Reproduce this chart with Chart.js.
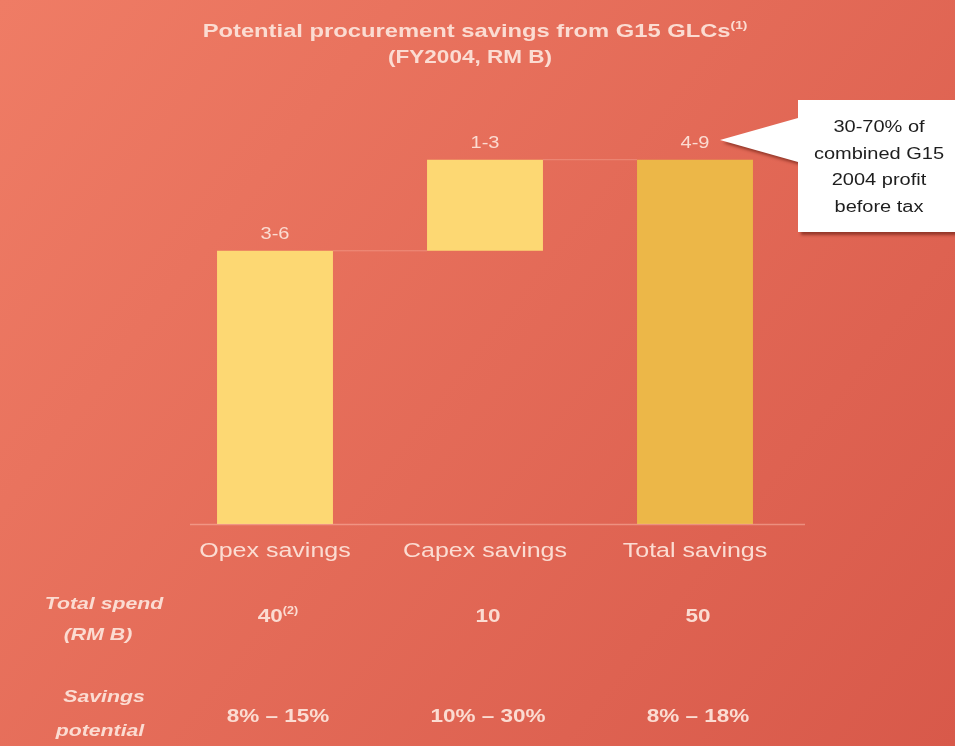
<!DOCTYPE html>
<html>
<head>
<meta charset="utf-8">
<script src="https://cdn.jsdelivr.net/npm/chart.js@4.4.1/dist/chart.umd.min.js"></script>
<style>
  html, body { margin: 0; padding: 0; background: #e46a57; }
  #wrap { width: 955px; height: 746px; position: relative; }
</style>
</head>
<body>
<div id="wrap"><canvas id="chart" width="955" height="746"></canvas></div>
<script>
// Chart data (RM B, FY2004)
const categories = ["Opex savings", "Capex savings", "Total savings"];
const barStart = [0, 4.5, 0];
const barEnd = [4.5, 6, 6];
const rangeLabels = ["3-6", "1-3", "4-9"];
const spendValues = ["40", "10", "50"];
const spendNotes = ["(2)", "", ""];
const savingsPotential = ["8% \u2013 15%", "10% \u2013 30%", "8% \u2013 18%"];
const barColors = ["#fdd873", "#fdd873", "#ecb748"];

const FONT = "'Liberation Sans', Arial, sans-serif";
const TEXT = "#fbdcd2";
const SX = 1.25; // the slide text is stretched sideways

const ctx = document.getElementById("chart").getContext("2d");

// draw text stretched horizontally, with an optional superscript after it
function wideText(c, str, x, y, font, sup, supFont) {
    c.save();
    c.font = font;
    let w = c.measureText(str).width;
    let sw = 0;
    if (sup) {
        c.font = supFont;
        sw = c.measureText(sup).width;
    }
    c.translate(x, y);
    c.scale(SX, 1);
    c.textAlign = "left";
    const x0 = -(w + sw) / 2;
    c.font = font;
    c.fillText(str, x0, 0);
    if (sup) {
        c.font = supFont;
        c.fillText(sup, x0 + w, -6);
    }
    c.restore();
}

// Background gradient + all the slide text
const slidePlugin = {
    id: "slide",
    beforeDraw(chart) {
        const c = chart.ctx;
        const g = c.createLinearGradient(0, 0, chart.width, chart.height);
        g.addColorStop(0, "#ef7c65");
        g.addColorStop(1, "#d8594a");
        c.save();
        c.fillStyle = g;
        c.fillRect(0, 0, chart.width, chart.height);
        c.restore();
    },
    afterDatasetsDraw(chart) {
        const c = chart.ctx;
        const x = chart.scales.x, y = chart.scales.y;
        c.save();

        // baseline
        c.strokeStyle = "rgba(255,200,185,0.45)";
        c.lineWidth = 1.5;
        c.beginPath();
        c.moveTo(190, y.getPixelForValue(0) + 0.5);
        c.lineTo(805, y.getPixelForValue(0) + 0.5);
        c.stroke();

        // connectors between bars
        const meta = chart.getDatasetMeta(0);
        c.strokeStyle = "rgba(255,200,185,0.35)";
        c.lineWidth = 1;
        for (let i = 0; i < meta.data.length - 1; i++) {
            const a = meta.data[i], b = meta.data[i + 1];
            const yy = y.getPixelForValue(barEnd[i]);
            c.beginPath();
            c.moveTo(a.x + a.width / 2, yy);
            c.lineTo(b.x - b.width / 2, yy);
            c.stroke();
        }

        c.fillStyle = TEXT;
        c.textBaseline = "middle";

        // range labels above bars
        meta.data.forEach((bar, i) => {
            wideText(c, rangeLabels[i], bar.x, y.getPixelForValue(barEnd[i]) - 16, "16px " + FONT);
        });

        // title
        wideText(c, "Potential procurement savings from G15 GLCs", 475, 32,
            "bold 19px " + FONT, "(1)", "bold 11px " + FONT);
        wideText(c, "(FY2004, RM B)", 470, 58, "bold 18px " + FONT);

        // category labels
        categories.forEach((cat, i) => {
            wideText(c, cat, x.getPixelForValue(i), 551, "20px " + FONT);
        });

        // row headers
        const hf = "bold italic 17px " + FONT;
        wideText(c, "Total spend", 104, 604, hf);
        wideText(c, "(RM B)", 98, 635, hf);
        wideText(c, "Savings", 104, 697, hf);
        wideText(c, "potential", 100, 731, hf);

        // row values
        spendValues.forEach((v, i) => {
            wideText(c, v, x.getPixelForValue(i) + 3, 617, "bold 18px " + FONT,
                spendNotes[i], "bold 10px " + FONT);
        });
        savingsPotential.forEach((v, i) => {
            wideText(c, v, x.getPixelForValue(i) + 3, 717, "bold 18px " + FONT);
        });

        // callout box
        const bx = 798, by = 100, bw = 170, bh = 132;
        c.save();
        c.shadowColor = "rgba(90,20,10,0.55)";
        c.shadowOffsetX = 3;
        c.shadowOffsetY = 3;
        c.shadowBlur = 3;
        c.fillStyle = "#ffffff";
        c.beginPath();
        c.moveTo(bx, by);
        c.lineTo(bx + bw, by);
        c.lineTo(bx + bw, by + bh);
        c.lineTo(bx, by + bh);
        c.lineTo(bx, 162);
        c.lineTo(720, 140);
        c.lineTo(bx, 118);
        c.closePath();
        c.fill();
        c.restore();
        c.fillStyle = "#1e1e1e";
        ["30-70% of", "combined G15", "2004 profit", "before tax"].forEach((ln, i) => {
            wideText(c, ln, 879, 128 + i * 26.5, "16px " + FONT);
        });
        c.restore();
    }
};

const chart = new Chart(ctx, {
    type: "bar",
    data: {
        labels: categories,
        datasets: [{
            data: categories.map((_, i) => [barStart[i], barEnd[i]]),
            backgroundColor: barColors,
            borderWidth: 0,
            borderSkipped: false,
            barPercentage: 0.552,
            categoryPercentage: 1
        }]
    },
    options: {
        responsive: false,
        animation: false,
        layout: { padding: { left: 170, right: 155, top: 99, bottom: 222 } },
        plugins: {
            legend: { display: false },
            tooltip: { enabled: false },
            title: { display: false }
        },
        scales: {
            x: { display: false },
            y: { display: false, min: 0, max: 7 }
        }
    },
    plugins: [slidePlugin]
});
</script>
</body>
</html>
